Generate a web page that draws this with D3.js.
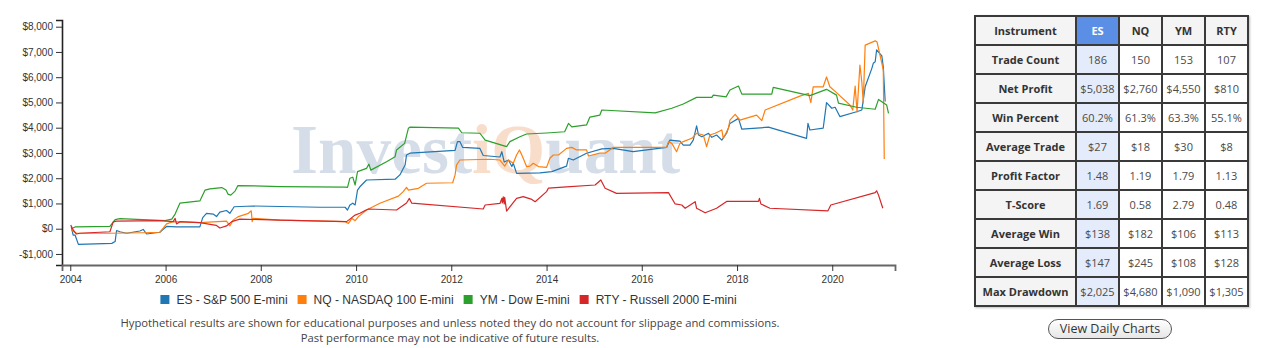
<!DOCTYPE html>
<html>
<head>
<meta charset="utf-8">
<script src="https://cdn.jsdelivr.net/npm/d3@7"></script>
<style>
  html, body { margin: 0; padding: 0; background: #fff; width: 1264px; height: 348px; overflow: hidden; position: relative; }
  #chart { position: absolute; left: 0; top: 0; }
  table.stats { position: absolute; left: 974px; top: 15px; border-collapse: collapse; table-layout: fixed; width: 273px;
    font-family: "Open Sans", sans-serif; font-size: 11px; box-shadow: 1px 1px 2px rgba(0,0,0,0.25); }
  table.stats td { border: 2px solid #3a3a3a; height: 27px; padding: 0; text-align: center; color: #4a4a4a; white-space: nowrap; overflow: hidden; }
  table.stats td.lbl { background: #f4f4f4; font-weight: bold; color: #333; }
  table.stats tr.head td { background: #f4f4f4; font-weight: bold; color: #333; }
  table.stats td.sel { background: #e4ecfb; }
  table.stats tr.head td.sel { background: #5b8fe6; color: #fff; }
  .btn { position: absolute; left: 1048px; top: 319px; width: 122px; height: 18px; border: 1px solid #555; border-radius: 10px;
    background: linear-gradient(#ffffff, #e6e6e6); font-family: "Open Sans", sans-serif; font-size: 12.5px; color: #333;
    text-align: center; line-height: 18px; }
</style>
</head>
<body>
<svg id="chart" width="960" height="348"></svg>
<script>
// ---------------- data ----------------
const seriesNames = ["ES - S&P 500 E-mini", "NQ - NASDAQ 100 E-mini", "YM - Dow E-mini", "RTY - Russell 2000 E-mini"];
const seriesColors = ["#1f77b4", "#ff7f0e", "#2ca02c", "#d62728"];

// [decimal year, cumulative profit $]
const esData = [[2004.02,80],[2004.06,-250],[2004.1,-250],[2004.17,-620],[2004.87,-580],[2004.94,-510],[2004.97,-70],[2005.04,-120],[2005.18,-180],[2005.46,-90],[2005.53,-30],[2005.6,-210],[2005.88,-140],[2005.95,-20],[2006.02,90],[2006.23,70],[2006.72,70],[2006.78,440],[2006.86,610],[2007.0,580],[2007.07,480],[2007.14,660],[2007.28,720],[2007.35,610],[2007.42,810],[2007.44,870],[2007.84,900],[2009.24,850],[2009.77,850],[2009.82,740],[2009.87,940],[2009.93,1010],[2009.98,940],[2010.03,1530],[2010.08,1660],[2010.22,1930],[2010.82,1960],[2010.92,2130],[2011.03,2520],[2011.06,2920],[2011.13,2990],[2012.08,3100],[2012.13,3450],[2012.18,3450],[2012.24,3220],[2012.6,3180],[2012.67,2900],[2013.02,2840],[2013.06,3050],[2013.11,2640],[2013.2,2720],[2013.27,2460],[2013.3,2590],[2013.37,2190],[2013.86,2210],[2014.11,2260],[2014.42,2480],[2014.46,2790],[2014.56,2720],[2014.84,2990],[2015.16,3160],[2015.4,3180],[2015.82,3050],[2016.52,3220],[2016.59,3510],[2016.8,3470],[2016.87,3310],[2017.01,3310],[2017.08,3510],[2017.15,4070],[2017.19,3710],[2017.26,3640],[2017.4,3780],[2017.47,3620],[2017.57,3710],[2017.68,3510],[2017.78,3780],[2017.85,4170],[2018.03,4370],[2018.1,3940],[2018.66,4020],[2019.46,3580],[2019.49,4170],[2019.53,3910],[2019.81,3980],[2019.88,4990],[2019.99,4770],[2020.06,4810],[2020.16,4440],[2020.51,4630],[2020.62,4700],[2020.69,5620],[2020.83,6350],[2020.86,6550],[2020.9,6610],[2020.93,7080],[2021.04,6840],[2021.07,6400],[2021.11,5040]];

const nqData = [[2004.02,-50],[2004.13,-180],[2004.83,-180],[2005.53,-160],[2005.88,-140],[2005.95,20],[2006.02,190],[2006.16,280],[2006.72,240],[2007.28,300],[2007.35,110],[2007.42,340],[2007.53,480],[2007.74,610],[2007.8,710],[2007.82,280],[2007.84,410],[2008.4,340],[2009.77,280],[2009.84,210],[2009.91,410],[2009.98,320],[2010.05,480],[2010.22,740],[2010.5,1010],[2010.89,1290],[2010.99,1470],[2011.06,1640],[2011.1,1530],[2011.31,1600],[2011.48,1800],[2012.03,1820],[2012.08,2130],[2012.11,2520],[2012.18,2720],[2012.81,2750],[2013.02,2720],[2013.12,2480],[2013.2,2720],[2013.3,2590],[2013.37,2920],[2013.43,3120],[2013.48,2920],[2013.58,2460],[2013.65,2480],[2013.72,2590],[2013.83,2460],[2014.0,2430],[2014.07,2790],[2014.14,2920],[2014.25,2920],[2014.42,3180],[2014.53,3220],[2014.63,3120],[2014.84,3120],[2014.88,2880],[2015.12,2990],[2015.23,2990],[2015.4,3220],[2016.52,3220],[2016.56,3450],[2016.63,3380],[2016.73,3050],[2016.8,3380],[2016.87,3450],[2017.05,3580],[2017.15,3780],[2017.29,3710],[2017.36,3250],[2017.43,3710],[2017.54,3780],[2017.68,3910],[2017.71,3580],[2017.82,3980],[2017.85,4300],[2017.96,4530],[2018.03,4370],[2018.06,4300],[2018.41,4500],[2018.52,4280],[2018.59,4700],[2019.32,5250],[2019.5,5360],[2019.55,4990],[2019.6,5620],[2019.81,5620],[2019.88,6010],[2019.95,5620],[2020.09,5390],[2020.37,4900],[2020.43,4700],[2020.48,5650],[2020.52,4620],[2020.58,6480],[2020.62,5810],[2020.65,4980],[2020.69,7270],[2020.9,7440],[2020.94,7390],[2021.04,6550],[2021.07,6280],[2021.09,2760]];

const ymData = [[2004.02,0],[2004.1,70],[2004.83,90],[2004.94,360],[2005.04,400],[2005.99,320],[2006.13,380],[2006.2,580],[2006.3,1010],[2006.72,1100],[2006.83,1530],[2006.93,1580],[2007.18,1630],[2007.27,1530],[2007.31,1370],[2007.37,1330],[2007.46,1490],[2007.52,1710],[2008.4,1670],[2009.77,1650],[2009.82,1640],[2009.87,2000],[2009.93,2040],[2009.98,1730],[2010.03,2260],[2010.22,2390],[2010.27,2560],[2010.31,2320],[2010.64,2650],[2010.82,2850],[2010.85,3120],[2011.02,3380],[2011.1,3980],[2011.13,4020],[2012.15,3980],[2012.22,3800],[2012.6,3780],[2012.71,3510],[2013.16,3250],[2013.23,3450],[2013.44,3640],[2013.58,3750],[2014.0,3790],[2014.38,3840],[2014.46,4170],[2014.53,4030],[2014.84,4110],[2014.91,4420],[2015.12,4500],[2015.16,4700],[2016.28,4590],[2016.63,4770],[2016.87,4940],[2017.15,5200],[2017.47,5200],[2017.5,5290],[2017.77,5220],[2017.85,5490],[2018.03,5650],[2018.1,5330],[2018.73,5330],[2018.76,5600],[2019.53,5270],[2019.88,5520],[2020.09,5290],[2020.13,4970],[2020.51,4810],[2020.9,4730],[2020.97,5120],[2021.14,4900],[2021.18,4570]];

const rtyData = [[2004.01,150],[2004.06,-50],[2004.13,-210],[2004.2,-180],[2004.83,-120],[2004.9,270],[2004.97,300],[2005.88,320],[2006.16,280],[2006.2,410],[2006.23,190],[2006.3,280],[2006.72,240],[2007.0,150],[2007.07,130],[2007.14,30],[2007.28,110],[2007.39,280],[2007.56,380],[2008.4,340],[2009.8,280],[2009.87,380],[2009.98,540],[2010.08,610],[2010.19,720],[2010.26,780],[2010.85,740],[2011.06,1020],[2011.12,1200],[2011.17,1010],[2012.67,780],[2012.71,940],[2013.02,1000],[2013.06,1200],[2013.07,1020],[2013.09,1260],[2013.11,980],[2013.12,1240],[2013.16,700],[2013.37,1200],[2013.51,1270],[2013.69,1160],[2013.76,1070],[2014.0,1470],[2014.04,1610],[2014.42,1660],[2015.02,1730],[2015.14,1930],[2015.23,1600],[2015.47,1400],[2016.56,1430],[2016.7,980],[2016.84,940],[2016.91,810],[2017.12,1070],[2017.15,810],[2017.33,630],[2017.57,810],[2017.78,1080],[2018.45,1080],[2018.47,1200],[2018.5,980],[2018.69,810],[2019.91,710],[2019.97,940],[2020.9,1430],[2020.93,1500],[2020.97,1330],[2021.06,810]];

const yTicks = [-1000, 0, 1000, 2000, 3000, 4000, 5000, 6000, 7000, 8000];
const xDomainYears = [2003.826, 2021.316];
const yDomain = [-1437, 8265];

const tableHeader = ["Instrument", "ES", "NQ", "YM", "RTY"];
const metricLabels = ["Trade Count", "Net Profit", "Win Percent", "Average Trade", "Profit Factor", "T-Score", "Average Win", "Average Loss", "Max Drawdown"];
const metricValues = [
  ["186", "150", "153", "107"],
  ["$5,038", "$2,760", "$4,550", "$810"],
  ["60.2%", "61.3%", "63.3%", "55.1%"],
  ["$27", "$18", "$30", "$8"],
  ["1.48", "1.19", "1.79", "1.13"],
  ["1.69", "0.58", "2.79", "0.48"],
  ["$138", "$182", "$106", "$113"],
  ["$147", "$245", "$108", "$128"],
  ["$2,025", "$4,680", "$1,090", "$1,305"]
];
const footnotes = ["Hypothetical results are shown for educational purposes and unless noted they do not account for slippage and commissions.",
  "Past performance may not be indicative of future results."];
const buttonLabel = "View Daily Charts";

// ---------------- helpers ----------------
function dy(v) {
  const yr = Math.floor(v);
  const s = new Date(yr, 0, 1), e = new Date(yr + 1, 0, 1);
  return new Date(+s + (v - yr) * (e - s));
}

// ---------------- chart ----------------
const svg = d3.select("#chart");
const plotL = 62, plotR = 895, plotT = 20, plotB = 265;

const x = d3.scaleTime().domain(xDomainYears.map(dy)).range([plotL, plotR]);
const y = d3.scaleLinear().domain(yDomain).range([plotB, plotT]);

// watermark
const wm = svg.append("text")
  .attr("x", 291).attr("y", 173)
  .attr("font-family", "'Liberation Serif', 'Times New Roman', serif")
  .attr("font-weight", "bold")
  .attr("font-size", 70)
  .attr("textLength", 389).attr("lengthAdjust", "spacingAndGlyphs");
wm.append("tspan").attr("fill", "#d5dee8").text("Invest");
wm.append("tspan").attr("fill", "#f8ddca").text("iQ");
wm.append("tspan").attr("fill", "#d5dee8").text("uant");

// axes
const fmtMoney = d => (d < 0 ? "-" : "") + "$" + d3.format(",")(Math.abs(d));
const yAxis = svg.append("g").attr("transform", `translate(${plotL},0)`)
  .call(d3.axisLeft(y).tickValues(yTicks).tickFormat(fmtMoney).tickSize(6).tickPadding(3));
const xAxis = svg.append("g").attr("transform", `translate(0,${plotB})`)
  .call(d3.axisBottom(x).ticks(d3.timeYear.every(2)).tickFormat(d3.timeFormat("%Y")).tickSize(6).tickPadding(5));
[yAxis, xAxis].forEach(g => {
  g.selectAll("text").attr("font-family", "'Liberation Sans', Arial, sans-serif").attr("font-size", 10).attr("fill", "#333");
  g.selectAll("line").attr("stroke", "#333");
});
yAxis.select(".domain").attr("stroke", "#222").attr("stroke-width", 1.6);
xAxis.select(".domain").attr("stroke", "#666").attr("stroke-width", 1.8);

// lines
const line = d3.line().x(d => x(dy(d[0]))).y(d => y(d[1]));
const allSeries = [esData, nqData, ymData, rtyData];
svg.append("g").selectAll("path").data(allSeries).join("path")
  .attr("d", line)
  .attr("fill", "none")
  .attr("stroke", (d, i) => seriesColors[i])
  .attr("stroke-width", 1.2)
  .attr("stroke-linejoin", "round");

// legend
const lg = svg.append("g");
const items = lg.selectAll("g").data(seriesNames).join("g");
items.append("rect").attr("width", 9).attr("height", 9).attr("y", 295).attr("fill", (d, i) => seriesColors[i]);
items.append("text").attr("x", 16).attr("y", 303.5).text(d => d)
  .attr("font-family", "'Liberation Sans', Arial, sans-serif").attr("font-size", 12).attr("fill", "#333");
const widths = [];
items.each(function () {
  widths.push(this.querySelector("text").getComputedTextLength() + 16);
});
const total = d3.sum(widths) + 10 * (widths.length - 1);
let cx = 448.5 - total / 2;
items.each(function (d, i) {
  d3.select(this).attr("transform", `translate(${cx},0)`);
  cx += widths[i] + 10;
});

// footnotes
svg.selectAll("text.fn").data(footnotes).join("text").attr("class", "fn")
  .attr("x", 450).attr("y", (d, i) => 327 + i * 15)
  .attr("text-anchor", "middle")
  .attr("font-family", "'Open Sans', sans-serif").attr("font-size", 11.25).attr("fill", "#444")
  .text(d => d);

// ---------------- table ----------------
const table = d3.select("body").append("table").attr("class", "stats");
const colg = table.append("colgroup");
[101, 43, 43, 43, 43].forEach(w => colg.append("col").style("width", w + "px"));
const hr = table.append("tr").attr("class", "head");
hr.selectAll("td").data(tableHeader).join("td")
  .attr("class", (d, i) => i === 0 ? "lbl" : (i === 1 ? "sel" : null)).text(d => d);
metricLabels.forEach((lab, r) => {
  const tr = table.append("tr");
  tr.append("td").attr("class", "lbl").text(lab);
  tr.selectAll("td.v").data(metricValues[r]).join("td").attr("class", (d, i) => "v" + (i === 0 ? " sel" : "")).text(d => d);
});

d3.select("body").append("div").attr("class", "btn").text(buttonLabel);
</script>
</body>
</html>
